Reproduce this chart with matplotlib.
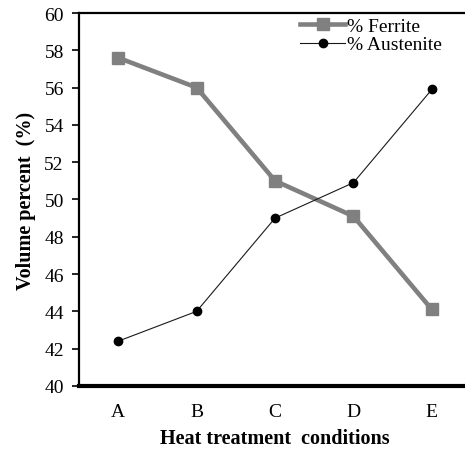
import matplotlib
matplotlib.use('Agg')
import matplotlib.pyplot as plt

conditions = ['A', 'B', 'C', 'D', 'E']
ferrite = [57.6, 56.0, 51.0, 49.1, 44.1]
austenite = [42.4, 44.0, 49.0, 50.9, 55.9]

plt.rcParams['font.family'] = ['Liberation Serif', 'DejaVu Serif']

fig = plt.figure(figsize=(4.65, 4.52), dpi=100)
ax = fig.add_axes([0.170, 0.144, 0.843, 0.825])

x = range(len(conditions))
ax.plot(x, ferrite, color='#808080', linewidth=3.3, marker='s', markersize=9,
        label='% Ferrite')
ax.plot(x, austenite, color='#1a1a1a', linewidth=0.8, marker='o', markersize=6,
        markerfacecolor='black', markeredgecolor='black', label='% Austenite')

ax.set_xlim(-0.5, 4.5)
ax.set_ylim(40, 60)
ax.set_yticks(range(40, 61, 2))
ax.set_xticks(list(x))
ax.set_xticklabels(conditions)
ax.tick_params(axis='x', length=0, labelsize=14, pad=12)
ax.tick_params(axis='y', length=5, width=1.2, direction='out', labelsize=14, pad=6)

ax.spines['right'].set_visible(False)
ax.spines['top'].set_linewidth(1.6)
ax.spines['left'].set_linewidth(1.6)
ax.spines['bottom'].set_linewidth(3)

ax.set_xlabel('Heat treatment  conditions', fontsize=14.5, fontweight='bold', labelpad=6)
ax.set_ylabel('Volume percent  (%)', fontsize=14.5, fontweight='bold', labelpad=6)

ax.legend(loc='upper right', bbox_to_anchor=(0.955, 1.02), frameon=False, fontsize=14,
          handlelength=2.3, handletextpad=0.1, labelspacing=0.05, borderaxespad=0.2)

fig.savefig('out.png', dpi=100)
